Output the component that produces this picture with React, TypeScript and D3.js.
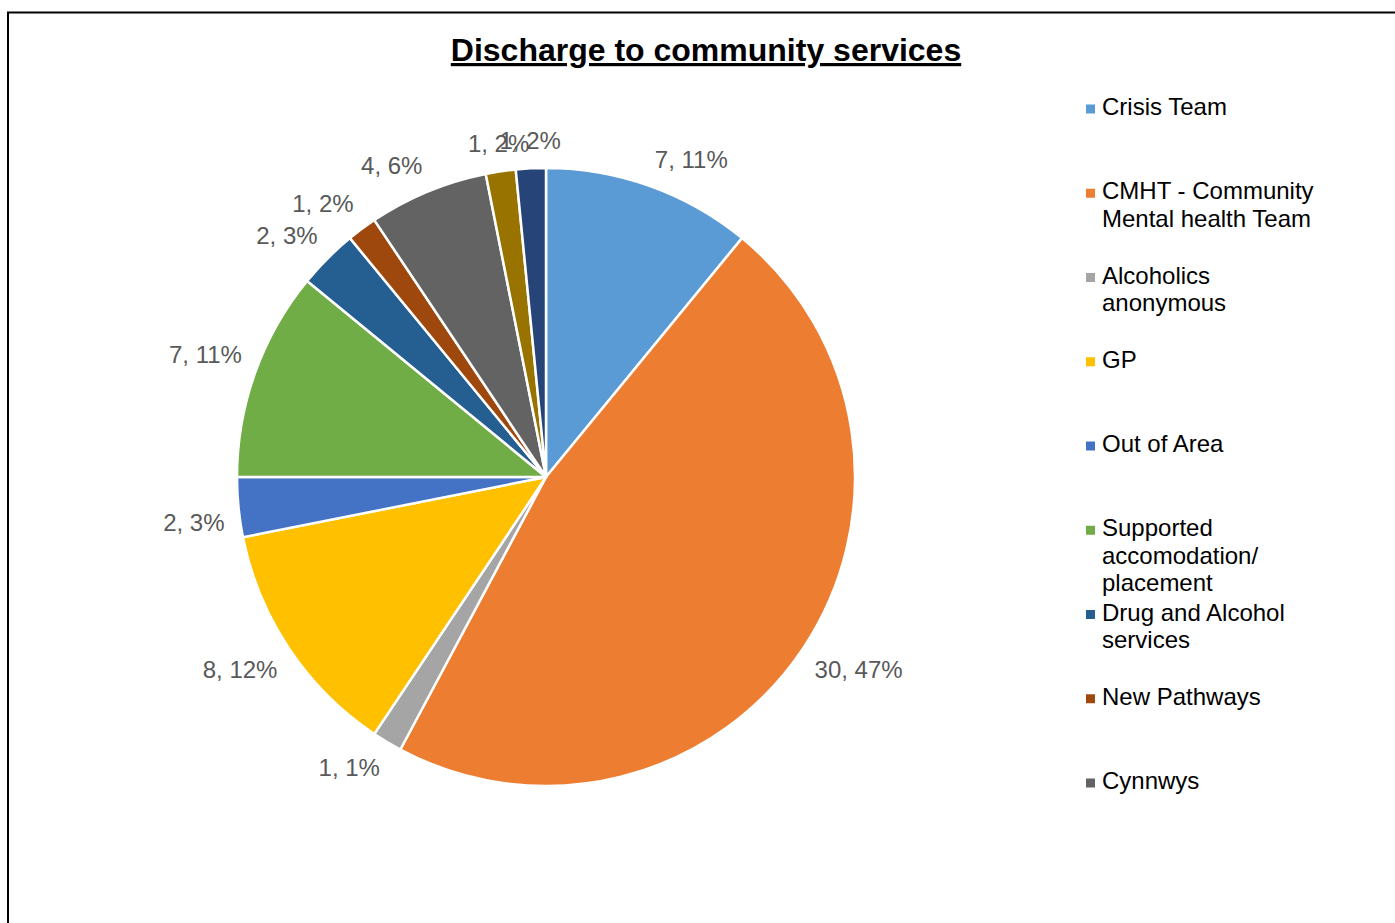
import React from "react";
import * as d3 from "d3";

const categories = [
  "Crisis Team",
  "CMHT - Community Mental health Team",
  "Alcoholics anonymous",
  "GP",
  "Out of Area",
  "Supported accomodation/ placement",
  "Drug and Alcohol services",
  "New Pathways",
  "Cynnwys",
  "Other (hidden 1)",
  "Other (hidden 2)",
];
const counts = [7, 30, 1, 8, 2, 7, 2, 1, 4, 1, 1];
const percentLabels = ["11%", "47%", "1%", "12%", "3%", "11%", "3%", "2%", "6%", "2%", "2%"];
const colors = [
  "#5B9BD5", "#ED7D31", "#A5A5A5", "#FFC000", "#4472C4", "#70AD47",
  "#255E91", "#9E480E", "#636363", "#997300", "#264478",
];
const visibleLegendCount = 9;
const title = "Discharge to community services";

const FONT = "'Liberation Sans', Arial, Helvetica, sans-serif";

let ctx: CanvasRenderingContext2D | null = null;
function measure(text: string, size: number, weight = "normal") {
  if (!ctx) ctx = document.createElement("canvas").getContext("2d");
  if (!ctx) return text.length * size * 0.55;
  ctx.font = `${weight} ${size}px ${FONT}`;
  return ctx.measureText(text).width;
}

function wrap(text: string, size: number, maxW: number) {
  const words = text.split(" ");
  const lines: string[] = [];
  let cur = "";
  for (const w of words) {
    const t = cur ? cur + " " + w : w;
    if (cur && measure(t, size) > maxW) {
      lines.push(cur);
      cur = w;
    } else cur = t;
  }
  if (cur) lines.push(cur);
  return lines;
}

export default function App() {
  const W = 1395, H = 923;
  const cx = 546, cy = 477, r = 309;
  const fs = 24;
  const pie = d3.pie<number>().sort(null).value((d) => d).startAngle(0).endAngle(2 * Math.PI);
  const arcs = pie(counts);
  const arcGen = d3.arc<d3.PieArcDatum<number>>().innerRadius(0).outerRadius(r);
  const labelArc = d3.arc<d3.PieArcDatum<number>>().innerRadius(r + 14).outerRadius(r + 14);

  const legendX = 1086;
  const legendTop = 115;
  const legendStep = 84.25;
  const lineH = 27.5;

  return (
    <svg width={W} height={H} style={{ position: "absolute", left: 0, top: 0, background: "#fff" }}>
      <rect x={0} y={0} width={W} height={H} fill="#fff" />
      <rect x={8} y={12.5} width={W + 50} height={H + 50} fill="none" stroke="#000" strokeWidth={2} />
      <text
        x={706}
        y={61}
        textAnchor="middle"
        fontFamily={FONT}
        fontWeight="bold"
        fontSize={32}
        fill="#000"
        style={{ textDecoration: "underline" }}
      >
        {title}
      </text>
      <g transform={`translate(${cx},${cy})`}>
        {arcs.map((a, i) => (
          <path key={i} d={arcGen(a) || ""} fill={colors[i]} stroke="#fff" strokeWidth={2.5} strokeLinejoin="round" />
        ))}
        {arcs.map((a, i) => {
          const label = `${counts[i]}, ${percentLabels[i]}`;
          const w = measure(label, fs);
          const hh = 13.5;
          const mid = (a.startAngle + a.endAngle) / 2;
          const s = Math.sin(mid), c = Math.cos(mid);
          // anchor point just outside the slice (outside end)
          const [px, py] = labelArc.centroid(a);
          const ox = Math.abs(s) < 0.2 ? 0 : Math.sign(s) * (w / 2);
          const oy = -Math.sign(c) * hh;
          return (
            <text
              key={"l" + i}
              x={px + ox}
              y={py + oy}
              dy="0.35em"
              textAnchor="middle"
              fontFamily={FONT}
              fontSize={fs}
              fill="#595959"
            >
              {label}
            </text>
          );
        })}
      </g>
      {categories.slice(0, visibleLegendCount).map((name, i) => {
        const base = legendTop + i * legendStep;
        const lines = wrap(name, fs, 225);
        return (
          <g key={"lg" + i}>
            <rect x={legendX} y={base - 10.5} width={9} height={9} fill={colors[i]} />
            <text x={legendX + 16} y={base} fontFamily={FONT} fontSize={fs} fill="#000">
              {lines.map((ln, j) => (
                <tspan key={j} x={legendX + 16} y={base + j * lineH}>
                  {ln}
                </tspan>
              ))}
            </text>
          </g>
        );
      })}
    </svg>
  );
}
